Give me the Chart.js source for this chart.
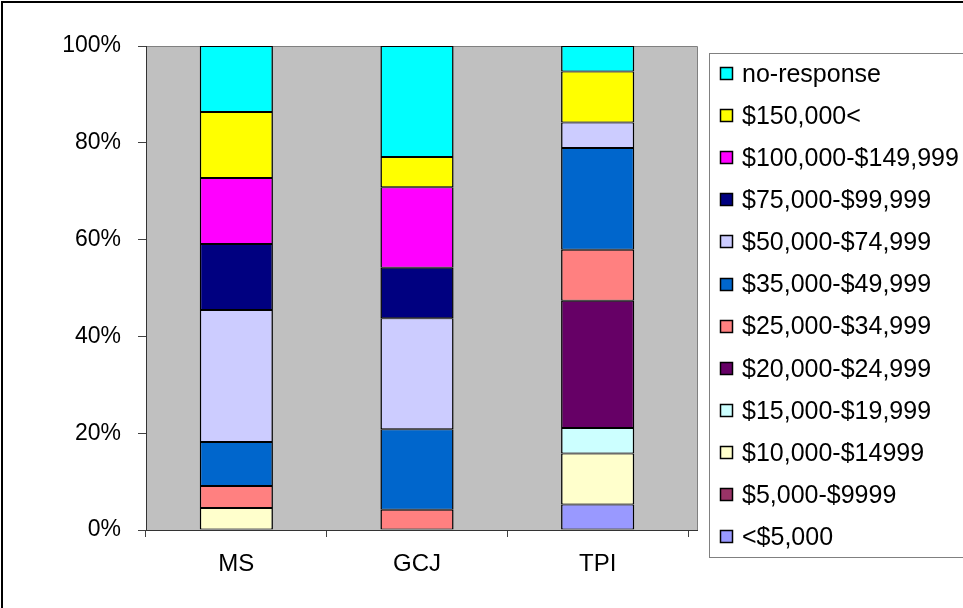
<!DOCTYPE html>
<html>
<head>
<meta charset="utf-8">
<script src="https://cdn.jsdelivr.net/npm/chart.js@4.4.1/dist/chart.umd.min.js"></script>
<style>
  html, body { margin: 0; padding: 0; background: #ffffff; }
  #wrap { width: 963px; height: 608px; position: relative; }
</style>
</head>
<body>
<div id="wrap"><canvas id="c" width="963" height="608"></canvas></div>
<script>
// Survey groups along the x axis
const categories = ['MS', 'GCJ', 'TPI'];

// Income brackets, stacked from the bottom of each column upward
const bracketLabels = [
  '<$5,000', '$5,000-$9999', '$10,000-$14999', '$15,000-$19,999',
  '$20,000-$24,999', '$25,000-$34,999', '$35,000-$49,999', '$50,000-$74,999',
  '$75,000-$99,999', '$100,000-$149,999', '$150,000<', 'no-response'
];

// Share of respondents (%) in each bracket, per group: [MS, GCJ, TPI]
const under5k     = [0,     0,     5.26];
const from5k      = [0,     0,     0];
const from10k     = [4.55,  0,     10.53];
const from15k     = [0,     0,     5.26];
const from20k     = [0,     0,     26.32];
const from25k     = [4.55,  4.17,  10.53];
const from35k     = [9.09,  16.66, 21.05];
const from50k     = [27.27, 22.92, 5.26];
const from75k     = [13.63, 10.41, 0];
const from100k    = [13.64, 16.67, 0];
const over150k    = [13.64, 6.25,  10.53];
const noResponse  = [13.63, 22.92, 5.26];

const yTicks = [0, 20, 40, 60, 80, 100];

const bracketValues = [under5k, from5k, from10k, from15k, from20k, from25k,
  from35k, from50k, from75k, from100k, over150k, noResponse];
const bracketColors = ['#9999FF', '#993366', '#FFFFCC', '#CCFFFF', '#660066', '#FF8080',
  '#0066CC', '#CCCCFF', '#000080', '#FF00FF', '#FFFF00', '#00FFFF'];

const FONT = '"Liberation Sans", Arial, sans-serif';
const PLOT_RIGHT = 697;   // grey panel extends a little past the category band

const datasets = bracketLabels.map((label, i) => ({
  label: label,
  data: bracketValues[i],
  backgroundColor: bracketColors[i],
  borderColor: '#000000',
  borderWidth: { left: 1.5, right: 1.5, top: 1, bottom: 1 },
  borderSkipped: false,
  barPercentage: 0.405,
  categoryPercentage: 1.0
}));

// Grey plot background plus the frame around the plot area
const plotFrame = {
  id: 'plotFrame',
  beforeDraw(chart) {
    const { ctx, chartArea: a } = chart;
    ctx.save();
    ctx.fillStyle = '#C0C0C0';
    ctx.fillRect(a.left, a.top, PLOT_RIGHT - a.left, a.bottom - a.top);
    ctx.strokeStyle = '#808080';
    ctx.lineWidth = 1;
    ctx.beginPath();
    ctx.moveTo(a.left, a.top + 0.5);
    ctx.lineTo(PLOT_RIGHT + 0.5, a.top + 0.5);
    ctx.lineTo(PLOT_RIGHT + 0.5, a.bottom);
    ctx.stroke();
    ctx.restore();
  },
  afterDraw(chart) {
    const { ctx, chartArea: a } = chart;
    ctx.save();
    // baseline continues under the extended panel
    ctx.strokeStyle = '#333333';
    ctx.lineWidth = 1;
    ctx.beginPath();
    ctx.moveTo(a.left, a.bottom + 0.5);
    ctx.lineTo(PLOT_RIGHT + 1, a.bottom + 0.5);
    ctx.stroke();
    // outer chart frame
    ctx.strokeStyle = '#000000';
    ctx.lineWidth = 2;
    ctx.beginPath();
    ctx.moveTo(2, chart.height + 2);
    ctx.lineTo(2, 2);
    ctx.lineTo(chart.width + 2, 2);
    ctx.stroke();
    ctx.restore();
  }
};

// Boxed legend listing the brackets from top of stack to bottom
const boxLegend = {
  id: 'boxLegend',
  afterDraw(chart) {
    const { ctx } = chart;
    const x0 = 709.5, y0 = 53.5, y1 = 557.5;
    ctx.save();
    ctx.strokeStyle = '#808080';
    ctx.lineWidth = 1;
    ctx.strokeRect(x0, y0, 400, y1 - y0);
    const sets = chart.data.datasets.slice().reverse();
    const first = 74, step = 42.1;
    ctx.font = '25px ' + FONT;
    ctx.textBaseline = 'middle';
    ctx.textAlign = 'left';
    sets.forEach((ds, i) => {
      const cy = first + i * step;
      ctx.fillStyle = ds.backgroundColor;
      ctx.fillRect(720.5, Math.round(cy) - 6.5, 12, 12);
      ctx.strokeStyle = '#000000';
      ctx.lineWidth = 1.5;
      ctx.strokeRect(720.5, Math.round(cy) - 6.5, 12, 12);
      ctx.fillStyle = '#000000';
      ctx.fillText(ds.label, 742, cy + 1);
    });
    ctx.restore();
  }
};

new Chart(document.getElementById('c'), {
  type: 'bar',
  data: { labels: categories, datasets: datasets },
  plugins: [plotFrame, boxLegend],
  options: {
    responsive: false,
    animation: false,
    events: [],
    layout: { padding: { top: 46, right: 275, left: 0, bottom: 0 } },
    plugins: {
      legend: { display: false },
      tooltip: { enabled: false },
      title: { display: false }
    },
    scales: {
      x: {
        stacked: true,
        offset: true,
        grid: {
          display: true,
          offset: true,
          drawOnChartArea: false,
          drawTicks: true,
          tickLength: 7,
          color: '#404040',
          tickColor: '#404040'
        },
        border: { display: true, color: '#333333', width: 1 },
        ticks: {
          color: '#000000',
          font: { family: FONT, size: 24 },
          padding: 13,
          maxRotation: 0
        },
        afterFit(s) { s.height = 78; }
      },
      y: {
        stacked: true,
        min: 0,
        max: 100,
        afterBuildTicks(s) { s.ticks = yTicks.map(v => ({ value: v })); },
        grid: {
          display: true,
          drawOnChartArea: false,
          drawTicks: true,
          tickLength: 8,
          color: '#404040',
          tickColor: '#404040'
        },
        border: { display: true, color: '#333333', width: 1 },
        ticks: {
          color: '#000000',
          font: { family: FONT, size: 23 },
          padding: 17,
          callback: v => v + '%'
        },
        afterFit(s) { s.width = 146; }
      }
    }
  }
});
</script>
</body>
</html>
